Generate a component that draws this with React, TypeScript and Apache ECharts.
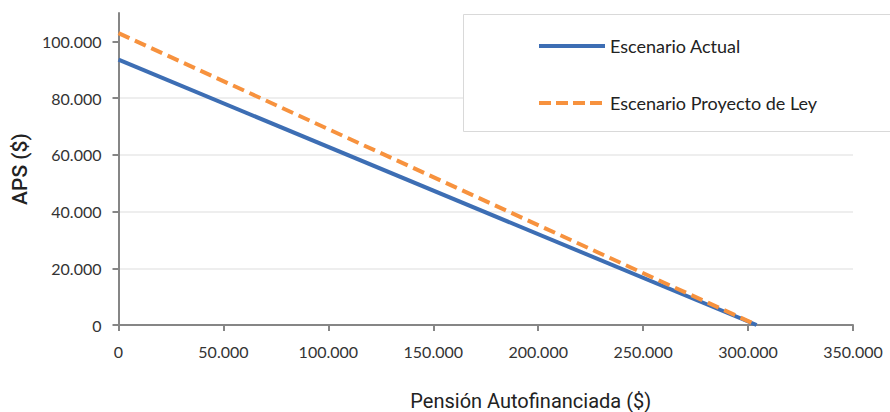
import React, { useEffect, useRef } from "react";
import * as echarts from "echarts";

const seriesNames = ["Escenario Actual", "Escenario Proyecto de Ley"];
const actualPoints: [number, number][] = [
  [0, 93543],
  [304062, 0],
];
const proyectoPoints: [number, number][] = [
  [0, 102897],
  [304062, 0],
];
const yTicks = [0, 20000, 40000, 60000, 80000, 100000];
const xTitle = "Pensión Autofinanciada ($)";
const yTitle = "APS ($)";

const BLUE = "#3d6eb4";
const ORANGE = "#f7923e";

const fmt = (v: number) =>
  v === 0 ? "0" : Math.round(v).toString().replace(/\B(?=(\d{3})+(?!\d))/g, ".");

export default function App() {
  const ref = useRef<HTMLDivElement>(null);
  useEffect(() => {
    document.body.style.margin = "0";
    if (!ref.current) return;
    const chart = echarts.init(ref.current, null, { renderer: "svg" });
    const labelFont = "Lato, 'Open Sans', sans-serif";
    chart.setOption({
      animation: false,
      backgroundColor: "#ffffff",
      grid: {
        left: 118.5,
        right: 37,
        top: 13,
        bottom: 87,
        containLabel: false,
        outerBoundsMode: "none",
      },
      xAxis: {
        type: "value",
        min: 0,
        max: 350000,
        interval: 50000,
        name: xTitle,
        nameLocation: "middle",
        nameGap: 66,
        nameTextStyle: {
          fontFamily: "Roboto",
          fontSize: 20,
          color: "#222222",
          padding: [0, 0, 0, 90],
        },
        axisLine: { show: true, lineStyle: { color: "#868686", width: 2 } },
        axisTick: { show: true, length: 6, lineStyle: { color: "#868686", width: 2 } },
        axisLabel: {
          margin: 18,
          fontFamily: labelFont,
          fontSize: 16,
          color: "#333333",
          formatter: (v: number) => fmt(v),
        },
        splitLine: { show: false },
      },
      yAxis: {
        type: "value",
        min: 0,
        max: 110000,
        name: yTitle,
        nameLocation: "middle",
        nameGap: 88,
        nameRotate: 90,
        nameTextStyle: { fontFamily: "Roboto", fontSize: 21, fontWeight: 500, color: "#222222" },
        axisLine: { show: true, lineStyle: { color: "#868686", width: 2 } },
        axisTick: {
          show: true,
          length: 6,
          customValues: yTicks,
          lineStyle: { color: "#868686", width: 2 },
        },
        axisLabel: {
          margin: 17,
          customValues: yTicks,
          fontFamily: labelFont,
          fontSize: 16,
          color: "#333333",
          formatter: (v: number) => fmt(v),
        },
        splitLine: {
          show: true,
          showMaxLine: false,
          lineStyle: { color: "#e8e8e8", width: 1.5 },
        },
      },
      graphic: [
        {
          type: "rect",
          z: 10,
          shape: { x: 463.5, y: 14.5, width: 440, height: 117 },
          style: { fill: "#ffffff", stroke: "#d9d9d9", lineWidth: 1 },
        },
      ],
      legend: {
        z: 20,
        left: 537,
        top: 37,
        orient: "vertical",
        itemWidth: 66,
        itemHeight: 14,
        itemGap: 39,
        padding: 0,
        textStyle: { fontFamily: labelFont, fontSize: 18, lineHeight: 18, color: "#222222" },
        data: [
          {
            name: seriesNames[0],
            itemStyle: { opacity: 0 },
            lineStyle: { color: BLUE, width: 4, type: "solid" },
          },
          {
            name: seriesNames[1],
            itemStyle: { opacity: 0 },
            lineStyle: { color: ORANGE, width: 4, type: [12, 5] },
          },
        ],
      },
      series: [
        {
          name: seriesNames[0],
          type: "line",
          data: actualPoints,
          showSymbol: false,
          symbol: "none",
          lineStyle: { color: BLUE, width: 4 },
          itemStyle: { color: BLUE },
        },
        {
          name: seriesNames[1],
          type: "line",
          data: proyectoPoints,
          showSymbol: false,
          symbol: "none",
          lineStyle: { color: ORANGE, width: 4, type: [12, 6] },
          itemStyle: { color: ORANGE },
        },
      ],
    });
    return () => chart.dispose();
  }, []);
  return <div ref={ref} style={{ width: 890, height: 412 }} />;
}
